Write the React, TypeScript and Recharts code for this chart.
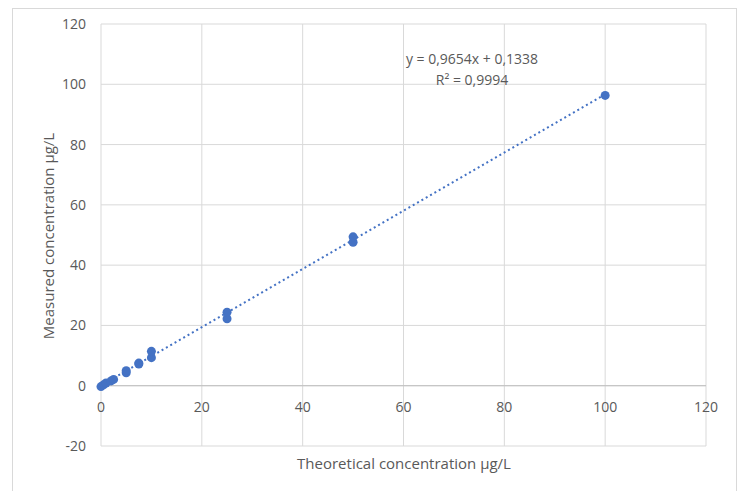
import React from 'react';
import {
  ScatterChart,
  Scatter,
  XAxis,
  YAxis,
  CartesianGrid,
  ReferenceLine,
} from 'recharts';

// measured points (theoretical, measured) in µg/L
const theoretical = [0, 0.5, 1, 2, 2.5, 5, 5, 7.5, 7.5, 10, 10, 25, 25, 50, 50, 100];
const measured = [-0.3, 0.3, 0.9, 1.6, 2.1, 4.3, 5.0, 7.2, 7.5, 9.3, 11.4, 22.2, 24.4, 47.6, 49.4, 96.3];

// linear trendline y = 0.9654x + 0.1338, endpoints
const trendX = [0, 100];
const trendY = [0.13, 96.67];

const xTicks = [0, 20, 40, 60, 80, 100, 120];
const yTicks = [-20, 0, 20, 40, 60, 80, 100, 120];

const points = theoretical.map((x, i) => ({ x, y: measured[i] }));
const trend = trendX.map((x, i) => ({ x, y: trendY[i] }));

const FONT = '"Open Sans", "Liberation Sans", sans-serif';
const GREY = '#595959';
const BLUE = '#4472c4';

// x labels sit under the y=0 line, like Excel's axis crossing
function XTick(props: any) {
  const { x, y, payload } = props;
  return (
    <text x={x} y={y - 60} dy={18} textAnchor="middle" fill={GREY} fontSize={14} fontFamily={FONT}>
      {payload.value}
    </text>
  );
}

export default function App() {
  return (
    <div style={{ position: 'absolute', left: 0, top: 0, width: 748, height: 491, background: '#fff', overflow: 'hidden' }}>
      <div style={{ position: 'absolute', left: 12, top: 8, width: 723, height: 500, border: '1px solid #d9d9d9' }} />
      <ScatterChart width={748} height={491} margin={{ top: 24, right: 42, bottom: 15, left: 30 }}>
        <CartesianGrid stroke="#d9d9d9" />
        <XAxis
          type="number"
          dataKey="x"
          domain={[0, 120]}
          ticks={xTicks}
          tick={<XTick />}
          tickLine={false}
          axisLine={false}
          height={30}
        />
        <YAxis
          type="number"
          dataKey="y"
          domain={[-20, 120]}
          ticks={yTicks}
          tickLine={false}
          axisLine={false}
          tickSize={0}
          tickMargin={15}
          width={71}
          tick={{ fill: GREY, fontSize: 14, fontFamily: FONT }}
        />
        <ReferenceLine y={0} stroke="#bfbfbf" />
        <Scatter
          data={trend}
          line={{ stroke: BLUE, strokeWidth: 2, strokeDasharray: '2 3' }}
          shape={() => null}
          isAnimationActive={false}
        />
        <Scatter
          data={points}
          fill={BLUE}
          shape={(p: any) => <circle cx={p.cx} cy={p.cy} r={4.5} fill={BLUE} />}
          isAnimationActive={false}
        />
      </ScatterChart>
      <div style={{ position: 'absolute', left: 48, top: 236, transform: 'translate(-50%, -50%) rotate(-90deg)', whiteSpace: 'nowrap', color: GREY, fontSize: 15, fontFamily: FONT }}>
        Measured concentration µg/L
      </div>
      <div style={{ position: 'absolute', left: 404, top: 463, transform: 'translate(-50%, -50%)', whiteSpace: 'nowrap', color: GREY, fontSize: 15, fontFamily: FONT }}>
        Theoretical concentration µg/L
      </div>
      <div style={{ position: 'absolute', left: 472, top: 69, transform: 'translate(-50%, -50%)', textAlign: 'center', color: GREY, fontSize: 14, lineHeight: '21px', fontFamily: FONT, whiteSpace: 'nowrap' }}>
        y = 0,9654x + 0,1338
        <br />
        R² = 0,9994
      </div>
    </div>
  );
}
